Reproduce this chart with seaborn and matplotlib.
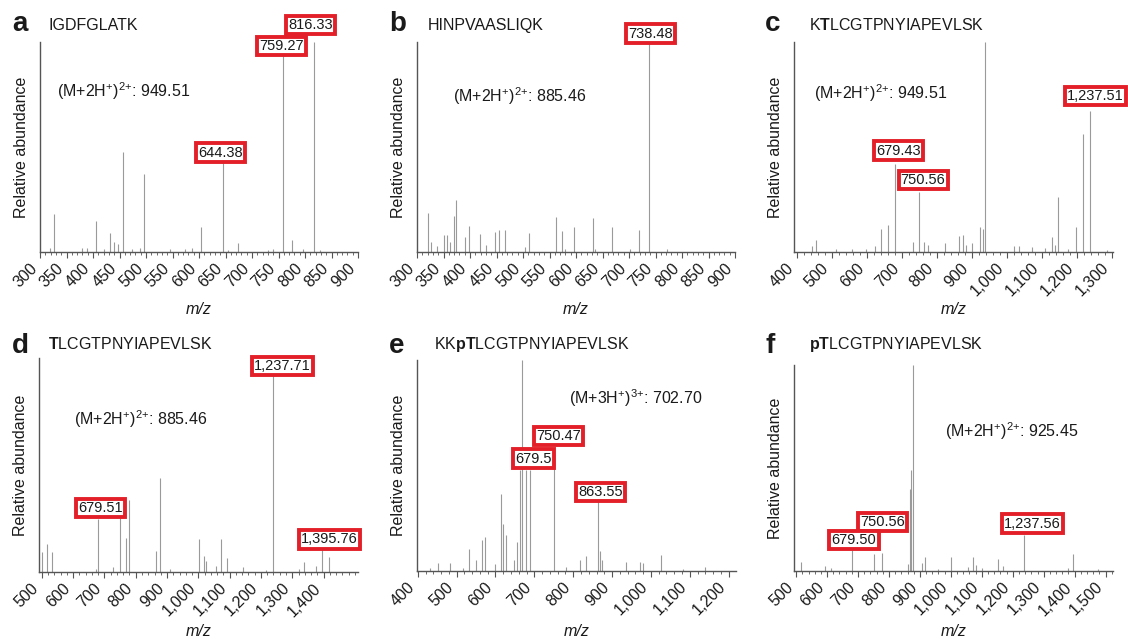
import matplotlib
matplotlib.use("Agg")
import matplotlib.pyplot as plt
from matplotlib.ticker import MultipleLocator, FixedLocator, FuncFormatter
import seaborn as sns

# ── DATA (m/z, relative abundance) ───────────────────────────────────────────
A_MZ = [816.3, 759.3, 644.4, 456, 497, 327, 405, 603, 432, 440, 448, 674, 775,
        319, 379, 388, 421, 473, 489, 545, 574, 586, 655, 731, 740, 797, 828]
A_INT = [100, 95, 44, 47.6, 37.3, 18.3, 15, 12, 9, 5, 3.7, 4.3, 5.9,
         2, 2, 2, 1.5, 1.5, 2, 1.5, 1.5, 2, 1, 1, 1.5, 1.5, 1]

B_MZ = [738.5, 373.4, 321, 369.6, 398.3, 419.6, 446.5, 454.6, 465.3, 511, 562.3,
        573, 597, 633, 668, 719.6, 350.9, 356.5, 362.8, 389.8, 326, 338, 430.7,
        503, 580, 635, 702, 771]
B_INT = [100, 24.7, 18.4, 17, 12.4, 8.5, 9.3, 10.5, 10.5, 9, 16.9,
         10, 11.8, 16.2, 11.8, 10.5, 7.9, 8.2, 5, 7, 5, 3, 3.5,
         2.5, 1.5, 1.5, 1.5, 1.5]

C_MZ = [939.4, 1237.5, 1218.5, 679.4, 749, 1147, 1198.5, 642, 660, 925, 932,
        863, 874.6, 1130, 453.7, 625, 732, 763, 775.6, 823, 885, 901, 1020,
        1034, 1073, 1111, 1139.5, 1175.6, 1287, 444, 511, 558.5, 596.6]
C_INT = [100, 67, 56, 42, 28.7, 26, 11.8, 10.9, 12.9, 12.1, 11,
         7.7, 8, 7, 5.8, 3, 4.6, 4.6, 3.5, 4.3, 3.5, 4.5, 3,
         3, 2.5, 2, 3.5, 1.5, 1, 3, 1.5, 1.5, 1.5]

D_MZ = [1237.9, 878.5, 778.6, 751, 679.7, 770, 863.6, 515, 502, 533, 1002,
        1018, 1025, 1073, 1092, 1055, 1142, 1339, 1395.8, 1416.5, 1376, 1323,
        727.5, 908, 674, 1216.6]
D_INT = [94.5, 43.7, 33.6, 25.8, 25, 16, 9.8, 13, 9.4, 9.4, 15.6,
         7.7, 5.2, 15.3, 6.7, 3, 2.3, 4.8, 12.2, 7, 2.7, 1.5,
         2.5, 1.5, 1.5, 1]

E_MZ = [669, 664, 679.5, 690, 750.5, 863.6, 613, 574, 564.5, 628, 619, 655,
        532, 551, 452, 482, 818, 833.6, 868, 875, 936, 970.7, 979, 1026, 1140,
        598, 647, 516.5, 431, 782, 1082]
E_INT = [100, 48, 48, 48, 56.5, 35, 36.7, 16, 14.5, 17, 22.5, 13.8,
         10.6, 5, 4, 3.8, 5, 7.3, 9.5, 5.4, 4.1, 4.3, 4, 7.6, 1.9,
         3.5, 5, 1.5, 1.5, 2, 1]

F_MZ = [876.7, 868, 870, 862.7, 1237.6, 679.5, 751.7, 776.5, 515.7, 593, 916.6,
        908, 1000.6, 1072.8, 1080, 1151, 1170, 1394, 611.6, 959.7, 1056.7,
        1100, 1380, 1477]
F_INT = [100, 40, 49, 3.6, 17.3, 10, 8.4, 8.8, 4.4, 2.3, 6.8,
         3.9, 6.8, 6.8, 2.8, 5.8, 2.4, 8.1, 1.5, 1, 2,
         1.5, 1.5, 1]

# boxed fragment labels and their (m/z, abundance) anchor
A_LABELS = ["816.33", "759.27", "644.38"]
A_LAB_XY = [(810.7, 108), (756, 98), (641.5, 47.3)]
B_LABELS = ["738.48"]
B_LAB_XY = [(740.3, 104)]
C_LABELS = ["1,237.51", "679.43", "750.56"]
C_LAB_XY = [(1253.7, 74.3), (692, 48.3), (761, 34.2)]
D_LABELS = ["1,237.71", "679.51", "1,395.76"]
D_LAB_XY = [(1267.7, 96.4), (687, 30), (1418.7, 15.2)]
E_LABELS = ["750.47", "679.5", "863.55"]
E_LAB_XY = [(762.5, 64), (698, 53.3), (870.4, 37.5)]
F_LABELS = ["750.56", "679.50", "1,237.56"]
F_LAB_XY = [(778.7, 23.8), (687, 14.9), (1263.6, 23)]

PEPTIDES = ["IGDFGLATK", "HINPVAASLIQK", r"K$\mathbf{T}$LCGTPNYIAPEVLSK",
            r"$\mathbf{T}$LCGTPNYIAPEVLSK", r"KK$\mathbf{pT}$LCGTPNYIAPEVLSK",
            r"$\mathbf{pT}$LCGTPNYIAPEVLSK"]
PRECURSORS = [r"(M+2H$^{{+}}$)$^{2{+}}$: 949.51", r"(M+2H$^{{+}}$)$^{2{+}}$: 885.46",
              r"(M+2H$^{{+}}$)$^{2{+}}$: 949.51", r"(M+2H$^{{+}}$)$^{2{+}}$: 885.46",
              r"(M+3H$^{{+}}$)$^{3{+}}$: 702.70", r"(M+2H$^{{+}}$)$^{2{+}}$: 925.45"]
LETTERS = ["a", "b", "c", "d", "e", "f"]

# ── STYLE ────────────────────────────────────────────────────────────────────
sns.set_theme(style="ticks")
plt.rcParams["font.family"] = ["Liberation Sans", "DejaVu Sans"]
plt.rcParams["mathtext.fontset"] = "custom"
plt.rcParams["mathtext.rm"] = "Liberation Sans"
plt.rcParams["mathtext.bf"] = "Liberation Sans:bold"
plt.rcParams["mathtext.it"] = "Liberation Sans:italic"
plt.rcParams["mathtext.default"] = "regular"

RED = "#e3202a"
PEAK = "#9a9a9a"
AXIS = "#555555"
INK = "#1a1a1a"
W, H = 1128, 643

fig = plt.figure(figsize=(W / 100, H / 100), dpi=100)


def px_axes(l, t, r, b):
    return fig.add_axes([l / W, 1 - b / H, (r - l) / W, (b - t) / H])


def px_text(x, y, s, **kw):
    fig.text(x / W, 1 - y / H, s, **kw)


panels = [
    dict(mz=A_MZ, inten=A_INT, labels=A_LABELS, lab_xy=A_LAB_XY,
         box=(40, 42, 358, 252), xlim=(300, 900), major=50, minor=10,
         letter_xy=(12, 31), pep_xy=(48, 30), prec_xy=(57, 91), mz_y=310),
    dict(mz=B_MZ, inten=B_INT, labels=B_LABELS, lab_xy=B_LAB_XY,
         box=(417, 42, 735, 252), xlim=(300, 900), major=50, minor=10,
         letter_xy=(389, 31), pep_xy=(428, 30), prec_xy=(453, 96), mz_y=310),
    dict(mz=C_MZ, inten=C_INT, labels=C_LABELS, lab_xy=C_LAB_XY,
         box=(794, 42, 1113, 252), xlim=(392, 1304), major=100, minor=20,
         letter_xy=(765, 31), pep_xy=(809, 30), prec_xy=(814, 93), mz_y=310),
    dict(mz=D_MZ, inten=D_INT, labels=D_LABELS, lab_xy=D_LAB_XY,
         box=(39, 358, 358, 572), xlim=(491, 1510), major=100, minor=20,
         ticks=list(range(500, 1401, 100)),
         letter_xy=(12, 353), pep_xy=(48, 349), prec_xy=(74, 419), mz_y=632),
    dict(mz=E_MZ, inten=E_INT, labels=E_LABELS, lab_xy=E_LAB_XY,
         box=(417, 360, 736, 571), xlim=(398, 1219), major=100, minor=20,
         letter_xy=(389, 353), pep_xy=(434, 349), prec_xy=(569, 398), mz_y=632),
    dict(mz=F_MZ, inten=F_INT, labels=F_LABELS, lab_xy=F_LAB_XY,
         box=(794, 365, 1113, 571), xlim=(493, 1524), major=100, minor=20,
         letter_xy=(765, 353), pep_xy=(809, 349), prec_xy=(945, 431), mz_y=632),
]

for i, p in enumerate(panels):
    ax = px_axes(*p["box"])
    ax.vlines(p["mz"], 0, p["inten"], colors=PEAK, lw=0.8, zorder=2)
    ax.set_xlim(*p["xlim"])
    ax.set_ylim(0, 100)
    ax.set_facecolor("white")
    sns.despine(ax=ax)
    for s in ("left", "bottom"):
        ax.spines[s].set_color(AXIS)
        ax.spines[s].set_linewidth(1.0)
    ax.set_yticks([])
    if "ticks" in p:
        ax.xaxis.set_major_locator(FixedLocator(p["ticks"]))
    else:
        ax.xaxis.set_major_locator(MultipleLocator(p["major"]))
    ax.xaxis.set_minor_locator(MultipleLocator(p["minor"]))
    ax.xaxis.set_major_formatter(FuncFormatter(lambda v, _: f"{v:,.0f}"))
    ax.tick_params(axis="x", which="major", direction="out", length=4,
                   width=0.8, color=AXIS, labelsize=11.5, labelcolor=INK, pad=2)
    ax.tick_params(axis="x", which="minor", direction="out", length=2.5,
                   width=0.6, color=AXIS)
    plt.setp(ax.get_xticklabels(), rotation=45, ha="right")
    ax.set_ylabel("Relative abundance", fontsize=11.5, labelpad=8, color=INK)

    for txt, (lx, ly) in zip(p["labels"], p["lab_xy"]):
        ax.text(lx, ly, txt, ha="center", va="center", fontsize=10.5,
                color=INK, clip_on=False, zorder=5,
                bbox=dict(boxstyle="square,pad=0.15", fc="white", ec=RED, lw=2.8))

    l, t, r, b = p["box"]
    px_text(p["letter_xy"][0], p["letter_xy"][1], LETTERS[i], fontsize=20,
            fontweight="bold", va="baseline", color=INK)
    px_text(p["pep_xy"][0], p["pep_xy"][1], PEPTIDES[i], fontsize=11.5,
            va="baseline", color=INK)
    px_text(p["prec_xy"][0], p["prec_xy"][1], PRECURSORS[i], fontsize=11.5,
            va="center", color=INK)
    px_text((l + r) / 2, p["mz_y"], "m/z", fontsize=11.5, style="italic",
            ha="center", va="center", color=INK)

plt.savefig("out.png", dpi=100)
plt.close()
